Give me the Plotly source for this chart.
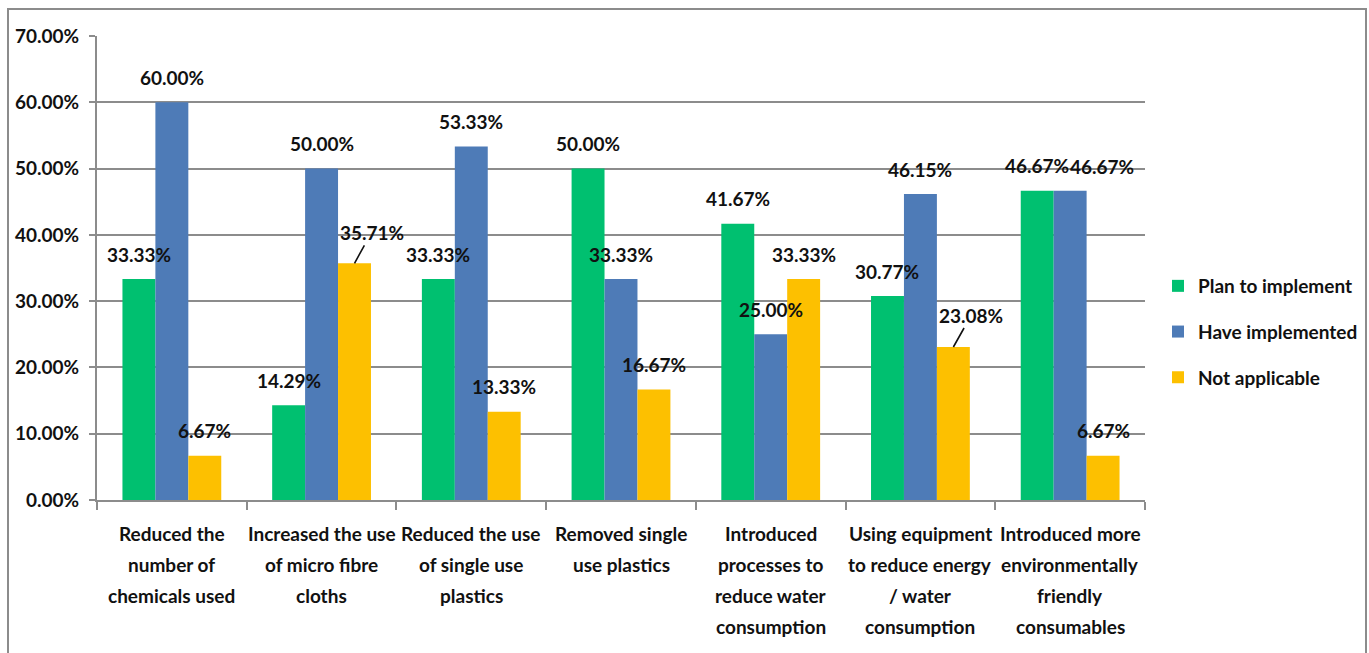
import plotly.graph_objects as go

# Survey categories (line breaks mark the wrapped axis labels)
categories = [
    "Reduced the<br>number of<br>chemicals used",
    "Increased the use<br>of micro fibre<br>cloths",
    "Reduced the use<br>of single use<br>plastics",
    "Removed single<br>use plastics",
    "Introduced<br>processes to<br>reduce water<br>consumption",
    "Using equipment<br>to reduce energy<br>/ water<br>consumption",
    "Introduced more<br>environmentally<br>friendly<br>consumables",
]

plan_to_implement = [0.3333, 0.1429, 0.3333, 0.5000, 0.4167, 0.3077, 0.4667]
have_implemented = [0.6000, 0.5000, 0.5333, 0.3333, 0.2500, 0.4615, 0.4667]
not_applicable = [0.0667, 0.3571, 0.1333, 0.1667, 0.3333, 0.2308, 0.0667]

series_names = ["Plan to implement", "Have implemented", "Not applicable"]
series_values = [plan_to_implement, have_implemented, not_applicable]
series_colors = ["#00C070", "#4E7BB7", "#FDC000"]

y_ticks = [0.0, 0.1, 0.2, 0.3, 0.4, 0.5, 0.6, 0.7]

FONT = "Lato, Roboto, Liberation Sans, Arial, sans-serif"
FSIZE = 19
GRID = "#8C8C8C"

W, H = 1369, 653
ML, MR, MT, MB = 97, 224, 36, 153
PW, PH = W - ML - MR, H - MT - MB

bar_w = 0.22
offsets = [-0.33, -0.11, 0.11]
xs = list(range(len(categories)))

fig = go.Figure()
for k, (name, vals, col) in enumerate(zip(series_names, series_values, series_colors)):
    fig.add_trace(go.Bar(
        x=xs, y=vals, name=name, width=bar_w, offset=offsets[k],
        marker=dict(color=col, line=dict(width=0)),
        legendgroup=f"g{k}",
        hoverinfo="skip",
    ))

# Per-label adjustments (series index, category index) -> (dx, dy, leader)
special = {
    (2, 1): (17, -31, True),
    (2, 5): (18, -32, True),
    (1, 6): (32, -24, False),
}

annotations = []
label_font = dict(family=FONT, size=FSIZE, color="#111111", weight="bold")
for k, vals in enumerate(series_values):
    for i, v in enumerate(vals):
        xc = i + offsets[k] + bar_w / 2
        txt = f"{v * 100:.2f}%"
        dx, dy, leader = special.get((k, i), (0, -25, False))
        if leader:
            annotations.append(dict(
                x=xc, y=v, xref="x", yref="y", text=txt, font=label_font,
                showarrow=True, arrowhead=0, arrowwidth=1.6, arrowcolor="#111111",
                ax=dx, ay=dy, standoff=0, startstandoff=0,
            ))
        else:
            annotations.append(dict(
                x=xc, y=v, xref="x", yref="y", text=txt, font=label_font,
                showarrow=False, xshift=dx, yshift=-dy, yanchor="middle",
            ))

# Wrapped category labels below the axis, one annotation per line
cat_font = dict(family=FONT, size=FSIZE, color="#111111", weight="bold")
for i, cat in enumerate(categories):
    for j, line in enumerate(cat.split("<br>")):
        annotations.append(dict(
            x=i, y=0, xref="x", yref="y", text=line, font=cat_font,
            showarrow=False, yanchor="middle", yshift=-(33 + 31 * j),
        ))

# Outer chart frame
def px_to_paper_x(px):
    return (px - ML) / PW

def px_to_paper_y(py):
    return (H - MB - py) / PH

shapes = [dict(
    type="rect", xref="paper", yref="paper",
    x0=px_to_paper_x(8), x1=px_to_paper_x(1366),
    y0=px_to_paper_y(660), y1=px_to_paper_y(9),
    line=dict(color=GRID, width=2), fillcolor="rgba(0,0,0,0)", layer="below",
)]

fig.update_layout(
    width=W, height=H,
    margin=dict(l=ML, r=MR, t=MT, b=MB, pad=0),
    paper_bgcolor="white", plot_bgcolor="white",
    barmode="overlay",
    showlegend=True,
    legend=dict(
        xref="container", yref="container",
        x=1158 / W, y=1 - 267 / H, xanchor="left", yanchor="top",
        font=dict(family=FONT, size=FSIZE, color="#111111", weight="bold"),
        traceorder="grouped", tracegroupgap=18, itemwidth=30,
        bgcolor="rgba(0,0,0,0)",
    ),
    annotations=annotations,
    shapes=shapes,
    xaxis=dict(
        range=[-0.5, len(categories) - 0.5],
        tickvals=xs, ticktext=[""] * len(xs), ticks="",
        showgrid=False, zeroline=False,
        showline=True, linecolor=GRID, linewidth=2,
        minor=dict(tickvals=[i - 0.5 for i in range(len(xs) + 1)],
                   ticks="outside", ticklen=8, tickcolor=GRID, tickwidth=2,
                   showgrid=False),
    ),
    yaxis=dict(
        range=[0, 0.7], tickvals=y_ticks, tickformat=".2%",
        ticks="outside", ticklen=6, tickcolor=GRID, tickwidth=2,
        ticklabelstandoff=6,
        tickfont=dict(family=FONT, size=FSIZE, color="#111111", weight="bold"),
        showgrid=True, gridcolor=GRID, gridwidth=2,
        zeroline=False, showline=True, linecolor=GRID, linewidth=2,
    ),
)

fig.write_html("out.html")
